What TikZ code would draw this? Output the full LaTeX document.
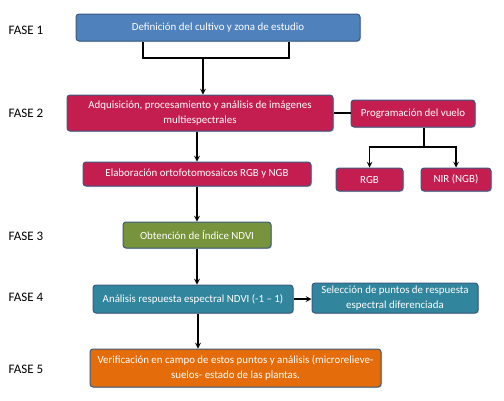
\documentclass[tikz,border=0pt]{standalone}
\usepackage{fontspec}
\setmainfont{Carlito}
\usetikzlibrary{shadows}

\definecolor{azulcaja}{HTML}{4F81BD}
\definecolor{rojocaja}{HTML}{C41E50}
\definecolor{verdecaja}{HTML}{77933C}
\definecolor{tealcaja}{HTML}{31859C}
\definecolor{naranjacaja}{HTML}{E46C0A}
\definecolor{bordecaja}{HTML}{3B5A82}

\tikzset{
  caja/.style={draw=bordecaja, line width=1pt, rounded corners=3pt, text=white,
    font=\fontsize{10.9}{15.5}\selectfont, align=center, inner sep=1pt,
    drop shadow={opacity=0.35, shadow xshift=1pt, shadow yshift=-1pt}},
  fase/.style={font=\fontsize{13}{15}\selectfont, anchor=west},
  flecha/.style={->, >=stealth, line width=1.5pt},
  linea/.style={line width=1.5pt}
}

\begin{document}
\begin{tikzpicture}[x=1pt,y=-1pt]
\useasboundingbox (0,0) rectangle (504,400);

% fases
\node[fase] (f1) at (5,30) {FASE 1};
\node[fase] (f2) at (5,113) {FASE 2};
\node[fase] (f3) at (5,236) {FASE 3};
\node[fase] (f4) at (5,297) {FASE 4};
\node[fase] (f5) at (5,369) {FASE 5};

% cajas
\node[caja, fill=azulcaja, minimum width=284pt, minimum height=27pt] (def) at (218,27.5) {Definición del cultivo y zona de estudio};
\node[caja, fill=rojocaja, minimum width=266pt, minimum height=36pt] (adq) at (200,113) {Adquisición, procesamiento y análisis de imágenes\\multiespectrales};
\node[caja, fill=rojocaja, minimum width=124pt, minimum height=27pt] (prog) at (413,113.5) {Programación del vuelo};
\node[caja, fill=rojocaja, minimum width=67pt, minimum height=23pt] (rgb) at (369.5,179.5) {RGB};
\node[caja, fill=rojocaja, minimum width=70pt, minimum height=23pt] (nir) at (456,179.5) {NIR (NGB)};
\node[caja, fill=rojocaja, minimum width=228pt, minimum height=24pt] (elab) at (197,174) {Elaboración ortofotomosaicos RGB y NGB};
\node[caja, fill=verdecaja, minimum width=148pt, minimum height=26pt] (ndvi) at (197,235) {Obtención de Índice NDVI};
\node[caja, fill=tealcaja, minimum width=200pt, minimum height=28pt] (anal) at (193,299) {Análisis respuesta espectral NDVI (-1 -- 1)};
\node[caja, fill=tealcaja, minimum width=166pt, minimum height=30pt] (sel) at (395,298) {Selección de puntos de respuesta\\espectral diferenciada};
\node[caja, fill=naranjacaja, minimum width=291pt, minimum height=38pt] (ver) at (235.5,368) {Verificación en campo de estos puntos y análisis (microrelieve-\\suelos- estado de las plantas.};

% conectores
\coordinate (b1) at (143,58);
\coordinate (b2) at (289,58);
\coordinate (b0) at (203,58);
\draw[linea] (def.south -| b1) -- (b1) -- (b2) -- (def.south -| b2);
\draw[flecha] (b0) -- (adq.north -| b0);
\draw[linea] (adq.east) -- (prog.west |- adq.east);
\coordinate (r0) at (424,147);
\draw[linea] (prog.south -| r0) -- (r0);
\draw[flecha] (r0) -| (rgb.north);
\draw[flecha] (r0) -| (nir.north);
\draw[flecha] (elab.north |- adq.south) -- (elab.north);
\draw[flecha] (elab.south) -- (ndvi.north);
\draw[flecha] (ndvi.south) -- (ndvi.south |- anal.north);
\draw[flecha] (anal.east) -- (sel.west |- anal.east);
\coordinate (v0) at (198,0);
\draw[flecha] (anal.south -| v0) -- (ver.north -| v0);
\end{tikzpicture}
\end{document}
